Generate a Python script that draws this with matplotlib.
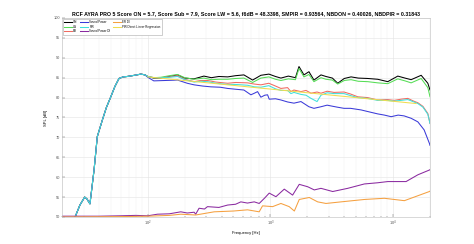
import numpy as np
import matplotlib
matplotlib.use("Agg")
import matplotlib.pyplot as plt

plt.rcParams['font.family'] = ['Liberation Sans', 'DejaVu Sans']

# common low-frequency part (all main curves overlap here)
low_f = [20, 24, 25.8, 28, 30.6, 32, 33.8, 36.5, 38.8, 42.7, 46, 50, 54, 58.3, 63, 68, 78, 88, 95]
low_db = [44, 48, 50.3, 53, 55.0, 54.5, 53.3, 61.8, 70.2, 74.4, 77.5, 80.2, 82.8, 84.8, 85.2, 85.3, 85.6, 85.9, 85.7]

on_f = [100, 112, 128, 150, 175, 200, 238, 287, 330, 380, 448, 520, 608, 716, 836, 972, 1100, 1218, 1400, 1600,
        1710, 1876, 2061, 2264, 2583, 2837, 3200, 3538, 4000, 4543, 5200, 6215, 7500, 9051, 10920, 12500, 14030,
        16940, 19200, 20000]
on_db = [85.3, 84.9, 84.9, 85.3, 85.7, 84.9, 84.7, 85.4, 85.0, 85.3, 85.2, 85.5, 85.7, 84.4, 85.6, 85.9, 85.3, 84.9,
         85.4, 85.0, 87.8, 85.7, 86.5, 84.4, 85.7, 85.3, 84.9, 83.6, 84.8, 85.2, 84.9, 84.8, 84.6, 84.0, 85.4, 84.9,
         84.5, 85.6, 83.6, 81.9]
lw_db = [85.3, 85.0, 85.1, 85.5, 85.8, 85.0, 84.6, 84.9, 84.5, 84.6, 84.6, 84.8, 84.9, 83.8, 84.9, 85.2, 84.6, 84.3,
         84.7, 84.5, 87.3, 85.2, 85.8, 84.0, 85.0, 84.6, 84.4, 83.4, 84.3, 84.5, 84.1, 84.0, 83.7, 83.5, 84.7, 84.2,
         83.7, 84.8, 82.5, 80.2]

er_f = [100, 112, 128, 150, 175, 200, 239, 270, 307, 360, 448, 520, 651, 740, 836, 970, 1100, 1218, 1380, 1469,
        1555, 1774, 1950, 2142, 2400, 2583, 2900, 3300, 3981, 4500, 5150, 6200, 7497, 9000, 10200, 11620, 13180,
        14500, 15920, 17500, 19200, 20000]
er_db = [85.3, 85.0, 85.0, 85.2, 85.5, 84.6, 84.0, 84.3, 84.3, 83.9, 83.6, 83.8, 83.7, 83.4, 83.2, 83.6, 82.9, 82.3,
         82.5, 81.5, 81.9, 81.5, 81.8, 81.1, 81.4, 81.1, 81.6, 81.3, 81.4, 80.9, 80.2, 80.0, 79.4, 79.5, 79.3, 79.6,
         79.8, 79.2, 78.7, 77.8, 76.0, 73.5]
pir_db = [85.3, 85.0, 85.0, 85.1, 85.3, 84.5, 83.9, 84.1, 84.0, 83.6, 83.3, 83.3, 83.1, 82.7, 82.6, 83.0, 82.2, 81.8,
          81.8, 81.0, 81.3, 80.8, 80.6, 79.8, 79.0, 80.6, 81.2, 81.0, 81.0, 80.5, 80.0, 79.8, 79.3, 79.3, 79.1, 79.3,
          79.5, 79.0, 78.5, 77.6, 75.8, 73.5]

sp_f = [100, 112, 140, 175, 210, 239, 280, 327, 390, 448, 520, 608, 693, 740, 786, 836, 900, 948, 978, 1100, 1218,
        1380, 1555, 1774, 2061, 2264, 2583, 2900, 3119, 3500, 3981, 4500, 5480, 6400, 7497, 8500, 9638, 11000,
        12300, 14030, 15920, 17900, 19770, 20000]
sp_db = [85.1, 84.2, 84.3, 84.4, 83.6, 83.2, 82.9, 82.7, 82.6, 82.3, 82.1, 81.9, 80.7, 81.1, 81.5, 80.1, 80.6, 80.7,
         79.6, 79.7, 79.4, 78.9, 78.6, 79.0, 77.7, 77.3, 77.7, 78.1, 77.9, 77.6, 77.3, 77.3, 76.9, 76.4, 75.9, 75.6,
         75.2, 75.6, 75.4, 74.8, 73.9, 71.9, 68.5, 68.0]

spdi_f = [20, 40, 60, 80, 100, 120, 150, 186, 210, 239, 246, 262, 290, 307, 380, 448, 520, 574, 650, 738, 810, 900,
          978, 1109, 1297, 1517, 1718, 2013, 2278, 2583, 3219, 4268, 5834, 7500, 9051, 12760, 15920, 19770, 20000]
spdi_db = [50.2, 50.2, 50.3, 50.4, 50.3, 50.7, 50.8, 51.3, 51.0, 51.2, 50.7, 52.2, 52.0, 52.6, 52.4, 53.0, 53.2,
           53.8, 53.5, 53.8, 53.4, 54.8, 56.0, 55.1, 57.0, 55.5, 58.2, 57.6, 56.8, 57.2, 56.4, 57.2, 58.3, 58.6,
           58.9, 58.9, 60.6, 61.8, 61.9]

erdi_f = [20, 60, 100, 150, 186, 246, 348, 500, 651, 810, 863, 1042, 1218, 1423, 1567, 1718, 2074, 2427, 2837,
          3765, 5834, 8490, 12360, 19770, 20000]
erdi_db = [50.0, 50.1, 50.2, 50.4, 50.7, 50.5, 51.3, 51.5, 51.8, 51.3, 52.8, 52.6, 53.4, 52.6, 51.5, 54.4, 54.9,
           53.8, 53.4, 53.8, 54.4, 54.7, 54.1, 56.4, 56.5]

reg_f = [100, 15400]
reg_db = [85.2, 78.5]

fig = plt.figure(figsize=(4.74, 2.44), dpi=100)
ax = fig.add_axes([0.1308, 0.1107, 0.7764, 0.8156])

ax.semilogx(low_f + on_f, low_db + on_db, color='#000000', lw=0.75, label='ON')
ax.semilogx(low_f + on_f, low_db + lw_db, color='#55dd55', lw=0.75, label='LW')
ax.semilogx(low_f + er_f, low_db + er_db, color='#f06a60', lw=0.75, label='ER')
ax.semilogx(low_f + sp_f, low_db + sp_db, color='#3a3ad8', lw=0.75, label='Sound Power')
ax.semilogx(low_f + er_f, low_db + pir_db, color='#3fe0dc', lw=0.75, label='PIR')
ax.semilogx(spdi_f, spdi_db, color='#8a2aa0', lw=0.75, label='Sound Power DI')
ax.semilogx(erdi_f, erdi_db, color='#f5a040', lw=0.75, label='ER DI')
ax.semilogx(reg_f, reg_db, color='#f0dc50', lw=0.75, label='PIR Direct Linear Regression')

ax.set_xlim(20, 20000)
ax.set_ylim(50, 100)
ax.set_yticks(np.arange(50, 101, 5))
ax.grid(True, which='major', color='#e4e4e4', lw=0.4)
ax.grid(True, which='minor', axis='x', color='#eeeeee', lw=0.3)
ax.tick_params(which='both', direction='in', labelsize=2.8, length=2, width=0.3, colors='#555555', pad=1.5)
ax.tick_params(which='minor', length=1)
for s in ax.spines.values():
    s.set_color('#bbbbbb')
    s.set_linewidth(0.4)

ax.set_xlabel('Frequency [Hz]', fontsize=3, labelpad=2)
ax.set_ylabel('SPL [dB]', fontsize=3, labelpad=4)
ax.set_title('RCF AYRA PRO 5 Score ON = 5.7, Score Sub = 7.9, Score LW = 5.6, f6dB = 48.3398, '
             'SMPIR = 0.93564, NBDON = 0.40026, NBDPIR = 0.31843', fontsize=3.8, fontweight='bold', pad=2)

leg = ax.legend(loc='upper left', ncol=3, fontsize=2.1, handlelength=2.6, columnspacing=1.0, handletextpad=0.5,
                borderpad=0.4, labelspacing=0.25, framealpha=1, edgecolor='#aaaaaa', fancybox=False,
                borderaxespad=0.3)
leg.get_frame().set_linewidth(0.4)

fig.savefig('out.png', dpi=100)
